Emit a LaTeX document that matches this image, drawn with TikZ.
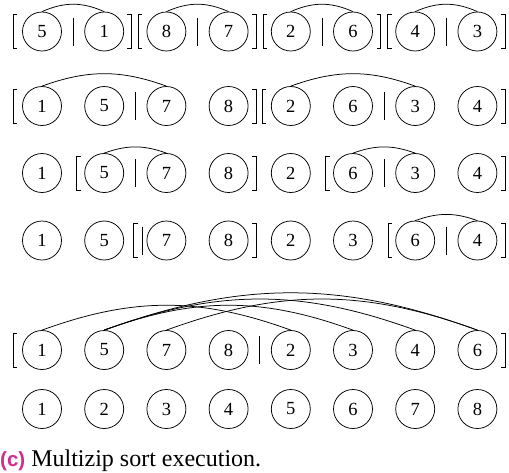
\documentclass[tikz,border=0pt]{standalone}
\usepackage{fontspec}
\setmainfont{Liberation Serif}
\newfontfamily\capsans{Liberation Sans}
\definecolor{cappink}{RGB}{210,45,135}
\newcommand\mylb[2]{\draw[brk] (#1+4,#2-17) -- (#1,#2-17) -- (#1,#2+17) -- (#1+4,#2+17);}
\newcommand\myrb[2]{\draw[brk] (#1-4,#2-17) -- (#1,#2-17) -- (#1,#2+17) -- (#1-4,#2+17);}
\newcommand\mydiv[2]{\draw[brk] (#1,#2-14) -- (#1,#2+14);}
\tikzset{
  elem/.style={circle, draw, line width=0.75pt, minimum size=39pt, inner sep=0pt, font=\fontsize{18.5}{20}\selectfont},
  brk/.style={line width=0.75pt},
  cmp/.style={line width=0.75pt, bend left=20},
}
\begin{document}
\begin{tikzpicture}[x=1pt,y=-1pt]
\useasboundingbox (0,0) rectangle (509,472);
\def\ya{31.5}\def\yb{106}\def\yc{173}\def\yd{240.5}\def\ye{350}\def\yf{409}
% row 1
\foreach \v [count=\i] in {5,1,8,7,2,6,4,3}
  \node[elem] (a\i) at ({42+62.2*(\i-1)},\ya) {\v};
\mylb{13}{\ya}\myrb{131}{\ya}\mylb{138}{\ya}\myrb{256}{\ya}\mylb{263}{\ya}\myrb{380.5}{\ya}\mylb{387.5}{\ya}\myrb{505}{\ya}
\mydiv{73}{\ya}\mydiv{197.5}{\ya}\mydiv{321.9}{\ya}\mydiv{446.3}{\ya}
\draw[cmp, bend left=24] (a1.north) to (a2.north);
\draw[cmp, bend left=24] (a3.north) to (a4.north);
\draw[cmp, bend left=24] (a5.north) to (a6.north);
\draw[cmp, bend left=24] (a7.north) to (a8.north);
% row 2
\foreach \v [count=\i] in {1,5,7,8,2,6,3,4}
  \node[elem] (b\i) at ({42+62.2*(\i-1)},\yb) {\v};
\mylb{13}{\yb}\myrb{256}{\yb}\mylb{262}{\yb}\myrb{505}{\yb}
\mydiv{135.3}{\yb}\mydiv{384.1}{\yb}
\draw[cmp] (b1.north) to (b3.north);
\draw[cmp] (b5.north) to (b7.north);
% row 3
\foreach \v [count=\i] in {1,5,7,8,2,6,3,4}
  \node[elem] (c\i) at ({42+62.2*(\i-1)},\yc) {\v};
\mylb{76.5}{\yc}\myrb{256}{\yc}\mylb{325.5}{\yc}\myrb{505}{\yc}
\mydiv{135.3}{\yc}\mydiv{384.1}{\yc}
\draw[cmp] (c2.north) to (c3.north);
\draw[cmp] (c6.north) to (c7.north);
% row 4
\foreach \v [count=\i] in {1,5,7,8,2,3,6,4}
  \node[elem] (d\i) at ({42+62.2*(\i-1)},\yd) {\v};
\mylb{133.5}{\yd}\myrb{256}{\yd}\mylb{388}{\yd}\myrb{505}{\yd}
\mydiv{142.5}{\yd}\mydiv{446.3}{\yd}
\draw[cmp] (d7.north) to (d8.north);
% row 5
\foreach \v [count=\i] in {1,5,7,8,2,3,4,6}
  \node[elem] (e\i) at ({42+62.2*(\i-1)},\ye) {\v};
\mylb{13}{\ye}\myrb{505}{\ye}
\mydiv{259.7}{\ye}
\draw[cmp] (e1.north) to (e5.north);
\draw[cmp] (e2.north) to (e6.north);
\draw[cmp] (e2.north) to (e7.north);
\draw[cmp] (e2.north) to (e8.north);
\draw[cmp] (e3.north) to (e8.north);
% row 6
\foreach \v [count=\i] in {1,2,3,4,5,6,7,8}
  \node[elem] (f\i) at ({42+62.2*(\i-1)},\yf) {\v};
% caption
\node[anchor=base west, inner sep=0pt, font=\fontsize{24}{28}\selectfont] (cap) at (0,466.5)
  {{\capsans\bfseries\fontsize{20.5}{24}\selectfont\color{cappink}(c)} Multizip sort execution.};
\end{tikzpicture}
\end{document}
